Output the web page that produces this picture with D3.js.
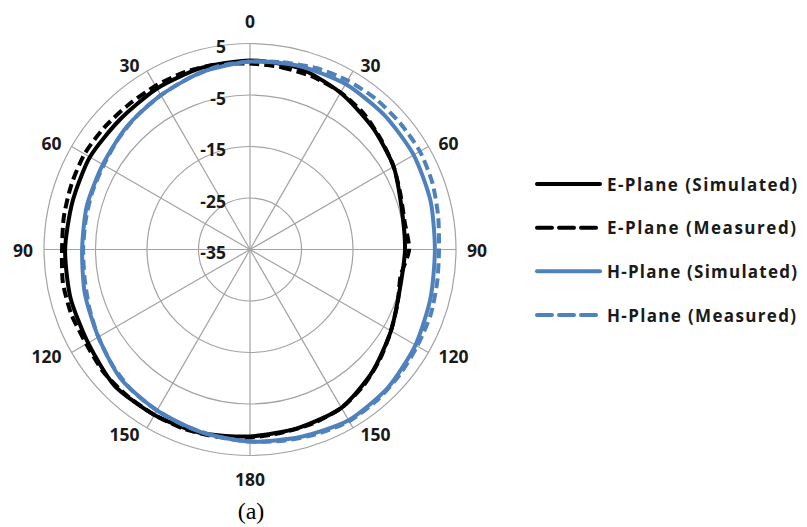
<!DOCTYPE html>
<html>
<head>
<meta charset="utf-8">
<script src="https://cdn.jsdelivr.net/npm/d3@7"></script>
<style>
  html, body { margin: 0; padding: 0; background: #fff; }
  svg { display: block; }
  .tick-label { font-family: "Open Sans", "Liberation Sans", sans-serif; font-weight: 700; font-size: 17.5px; fill: #1a1a1a; }
  .legend-label { font-family: "Open Sans", "Liberation Sans", sans-serif; font-weight: 700; font-size: 17px; fill: #1a1a1a; }
  .caption { font-family: "Liberation Serif", "DejaVu Serif", serif; font-size: 24px; fill: #000; }
</style>
</head>
<body>
<svg id="chart" width="807" height="527"></svg>
<script>
// Radiation pattern, gain in dB versus angle (degrees, clockwise from 0 at the top)
const simAngles = [0, 15, 30, 45, 60, 75, 90, 105, 120, 135, 150, 165,
                   180, 195, 210, 225, 240, 255, 270, 285, 300, 315, 330, 345];
const measAngles = [0, 10, 20, 30, 40, 50, 60, 70, 80, 90, 100, 110,
                    120, 130, 140, 150, 160, 170, 180, 190, 200, 210, 220, 230,
                    240, 250, 260, 270, 280, 290, 300, 310, 320, 330, 340, 350];

const ePlaneSimulated = [1.7, 1.5, 0.15, -1.4, -2.8, -4.5, -4.9, -4.9, -3.4, -1.4, 0.5, 0.9,
                         1.3, 1.9, 2.1, 2.3, 1.3, 1.1, 0.9, 0.7, 0.9, 0.7, 1.1, 1.5];
const ePlaneMeasured = [1.1, 0.9, 0.7, 0.2, -0.6, -1.8, -2.8, -3.9, -4.5, -4.1, -5.3, -4.5,
                        -3.4, -2.0, -0.6, 0.5, 0.9, 1.1, 1.5, 1.9, 2.1, 2.1, 2.1, 2.1,
                        1.7, 1.9, 1.9, 1.5, 1.7, 1.9, 2.1, 1.9, 1.7, 1.7, 1.7, 1.5];
const hPlaneSimulated = [1.5, 1.9, 2.1, 1.9, 1.7, 1.3, 0.9, 1.3, 2.1, 2.9, 3.3, 2.7,
                         2.3, 1.7, 1.1, 0.5, -1.0, -1.8, -2.4, -2.2, -2.0, -1.2, -0.4, 0.7];
const hPlaneMeasured = [1.5, 1.9, 2.5, 2.9, 3.1, 3.1, 3.1, 2.7, 2.1, 1.7, 1.9, 2.3,
                        2.5, 2.9, 3.3, 3.5, 3.1, 2.7, 2.3, 1.9, 1.5, 1.1, 0.7, -0.1,
                        -1.0, -1.8, -2.4, -2.6, -2.6, -2.4, -2.2, -1.6, -1.0, -0.4, 0.3, 1.1];

const radialTicks = [5, -5, -15, -25, -35];
const angleTicks = [0, 30, 60, 90, 120, 150, 180, 210, 240, 270, 300, 330];
const seriesNames = ["E-Plane (Simulated)", "E-Plane (Measured)", "H-Plane (Simulated)", "H-Plane (Measured)"];
const caption = "(a)";

const series = [
  { name: seriesNames[0], angles: simAngles,  values: ePlaneSimulated, color: "#000000", dash: null },
  { name: seriesNames[1], angles: measAngles, values: ePlaneMeasured,  color: "#000000", dash: "10,5" },
  { name: seriesNames[2], angles: simAngles,  values: hPlaneSimulated, color: "#4f81bd", dash: null },
  { name: seriesNames[3], angles: measAngles, values: hPlaneMeasured,  color: "#4f81bd", dash: "10,5" }
];

const svg = d3.select("#chart");
const cx = 250, cy = 249.5, R = 206;

const r = d3.scaleLinear().domain([-35, 5]).range([0, R]);
const a = d3.scaleLinear().domain([0, 360]).range([0, 2 * Math.PI]);

const g = svg.append("g").attr("transform", `translate(${cx},${cy})`);

// concentric grid rings
g.selectAll("circle.ring")
  .data(radialTicks.filter(v => v > -35))
  .join("circle")
  .attr("class", "ring")
  .attr("r", d => r(d))
  .attr("fill", "none")
  .attr("stroke", "#a3a3a3")
  .attr("stroke-width", 1.2);

// spokes every 30 degrees
g.selectAll("line.spoke")
  .data(angleTicks)
  .join("line")
  .attr("class", "spoke")
  .attr("x1", 0).attr("y1", 0)
  .attr("x2", d => Math.sin(a(d)) * R)
  .attr("y2", d => -Math.cos(a(d)) * R)
  .attr("stroke", "#a3a3a3")
  .attr("stroke-width", 1.2);

// data curves
const line = d3.lineRadial()
  .angle(d => a(d[0]))
  .radius(d => r(d[1]))
  .curve(d3.curveCardinalClosed.tension(0.3));

g.selectAll("path.series")
  .data(series)
  .join("path")
  .attr("class", "series")
  .attr("d", s => line(s.angles.map((ang, i) => [ang, s.values[i]])))
  .attr("fill", "none")
  .attr("stroke", s => s.color)
  .attr("stroke-width", 4)
  .attr("stroke-dasharray", s => s.dash)
  .attr("stroke-linejoin", "round");

// radial value labels along the 0 degree spoke
g.selectAll("text.rlabel")
  .data(radialTicks)
  .join("text")
  .attr("class", "tick-label rlabel")
  .attr("x", -24)
  .attr("y", d => -r(d) + 2.5)
  .attr("text-anchor", "end")
  .attr("dominant-baseline", "central")
  .text(d => d);

// angular labels
const labelR = R + 7;
g.selectAll("text.alabel")
  .data(angleTicks)
  .join("text")
  .attr("class", "tick-label alabel")
  .each(function (d) {
    const s = Math.sin(a(d)), c = Math.cos(a(d));
    const t = d3.select(this);
    if (Math.abs(s) < 1e-6) {
      t.attr("x", 0).attr("y", c > 0 ? -(R + 23) : R + 23).attr("text-anchor", "middle");
    } else {
      t.attr("x", s * labelR + (s > 0 ? 4 : -4))
       .attr("y", -c * labelR)
       .attr("text-anchor", s > 0 ? "start" : "end");
    }
  })
  .attr("dominant-baseline", "central")
  .text(d => d <= 180 ? d : 360 - d);

// legend
const legend = svg.append("g");
const legendY = d3.scalePoint().domain(seriesNames).range([184, 315]);
const rows = legend.selectAll("g.row").data(series).join("g").attr("class", "row")
  .attr("transform", s => `translate(0,${legendY(s.name)})`);
rows.append("line")
  .attr("x1", 537).attr("x2", 600).attr("y1", 0).attr("y2", 0)
  .attr("stroke", s => s.color)
  .attr("stroke-width", 4)
  .attr("stroke-dasharray", s => s.dash ? "15,7" : null)
  .attr("stroke-linecap", "round");
rows.append("text")
  .attr("class", "legend-label")
  .attr("x", 607)
  .attr("y", 0)
  .attr("dominant-baseline", "central")
  .attr("textLength", s => s.name.includes("Measured") ? 189 : 190)
  .attr("lengthAdjust", "spacing")
  .text(s => s.name);

// caption
svg.append("text")
  .attr("class", "caption")
  .attr("x", 251)
  .attr("y", 519)
  .attr("text-anchor", "middle")
  .text(caption);
</script>
</body>
</html>
